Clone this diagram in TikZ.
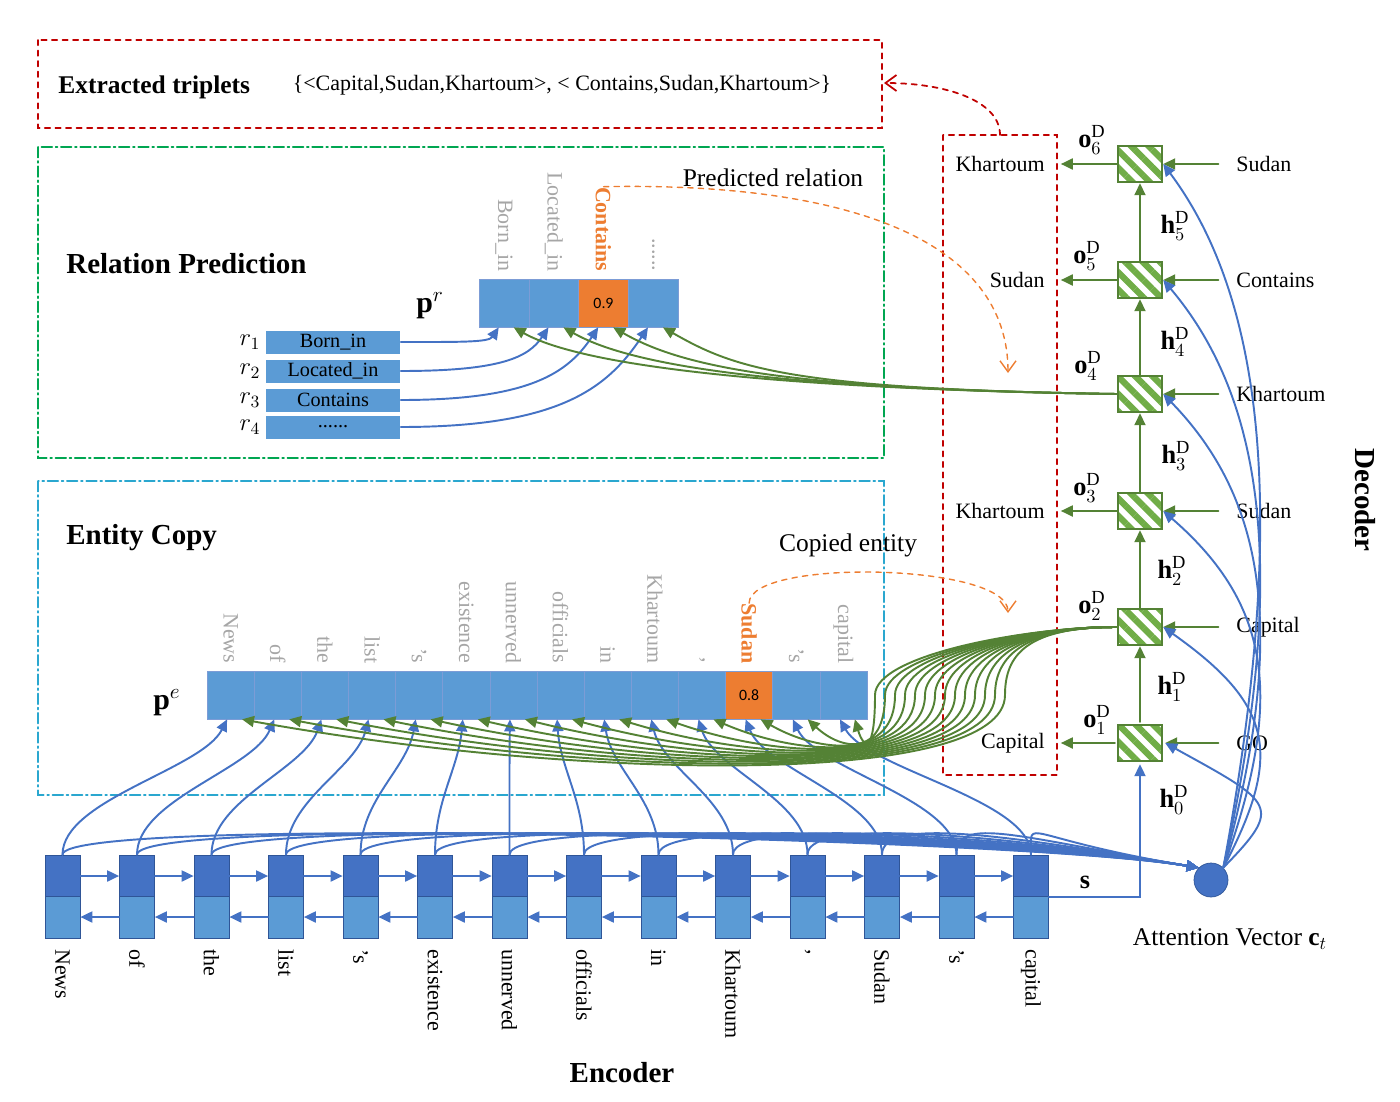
\RequirePackage{fix-cm}
\documentclass[tikz,border=0pt]{standalone}
\usepackage{amsmath,amssymb}
\usepackage{fontspec}
\setmainfont{Liberation Serif}
\newfontfamily\calibri{Carlito}
\usepackage{tikz}
\usetikzlibrary{arrows.meta,patterns.meta}
\usepackage{xcolor}

\definecolor{cellblue}{HTML}{5B9BD5}
\definecolor{darkblue}{HTML}{4472C4}
\definecolor{edgeblue}{HTML}{2F5597}
\definecolor{orangecell}{HTML}{ED7D31}
\definecolor{leafgreen}{HTML}{548235}
\definecolor{hatchgreen}{HTML}{70AD47}
\definecolor{boxred}{HTML}{C00000}
\definecolor{boxgreen}{HTML}{00A651}
\definecolor{boxcyan}{HTML}{2AA7CF}
\definecolor{labelgray}{HTML}{A6A6A6}

\newcommand{\tokens}{News,of,the,list,'s,existence,unnerved,officials,in,Khartoum,{,},Sudan,'s,capital}
\newcommand{\sixdots}{......}

\begin{document}
\begin{tikzpicture}[x=0.02cm,y=-0.02cm,line cap=round,font=\fontsize{12.5}{15}\selectfont,
  head/.style={font=\fontsize{16.5}{20}\selectfont\bfseries,inner sep=0pt},
  note/.style={font=\fontsize{14.5}{17}\selectfont,inner sep=0pt},
  mathlbl/.style={font=\fontsize{15}{18}\selectfont,inner sep=0pt},
  framed/.style={line width=1pt},
  chainline/.style={dash pattern=on 6pt off 2pt on 1pt off 2pt},
  enctop/.style={draw=edgeblue,fill=darkblue,minimum width=0.7cm,minimum height=0.84cm,inner sep=0pt},
  encbot/.style={draw=edgeblue,fill=cellblue,minimum width=0.7cm,minimum height=0.84cm,inner sep=0pt},
  pecell/.style={draw=darkblue!70,fill=cellblue,minimum width=0.943cm,minimum height=0.96cm,inner sep=0pt,font=\calibri\fontsize{9}{10}\selectfont},
  prcell/.style={draw=darkblue!70,fill=cellblue,minimum width=0.995cm,minimum height=0.96cm,inner sep=0pt,font=\calibri\fontsize{9}{10}\selectfont},
  rbox/.style={fill=cellblue,minimum width=2.7cm,minimum height=0.46cm,inner sep=0pt,font=\fontsize{11.5}{13}\selectfont},
  decbox/.style={draw=leafgreen,line width=1.4pt,minimum width=0.88cm,minimum height=0.72cm,inner sep=0pt,
    pattern={Lines[angle=-45,distance=7pt,line width=3.6pt]},pattern color=hatchgreen},
  bluearrow/.style={draw=darkblue,line width=1.1pt,-{Triangle[length=2.4mm,width=2.2mm]}},
  greenarrow/.style={draw=leafgreen,line width=1.1pt,-{Triangle[length=2.4mm,width=2.2mm]}},
  openarrow/.style={-{Straight Barb[length=2.2mm,width=3.2mm]}}]
\useasboundingbox (0,0) rectangle (1400,1102);

% frames
\draw[boxred,framed,dashed] (38,40) rectangle (882,128);
\draw[boxgreen,framed,chainline] (38,147) rectangle (884,458);
\draw[boxcyan,framed,chainline] (38,481) rectangle (884,795);
\draw[boxred,framed,dashed] (943,135) rectangle (1057,775);
\coordinate (tripin) at (884,83);
\coordinate (outtop) at (1000,135);
\coordinate (reltip) at (1008,373);
\coordinate (copytip) at (1008,613);

\node[head,anchor=west,font=\fontsize{14.5}{17}\selectfont\bfseries] (extr) at (58,87) {Extracted triplets};
\node[inner sep=0pt,font=\fontsize{12.5}{15}\selectfont] (trip) at (562,85) {\{<Capital,Sudan,Khartoum>, < Contains,Sudan,Khartoum>\}};
\node[head,anchor=west] (relhead) at (66,264) {Relation Prediction};
\node[head,anchor=west] (enthead) at (66,538) {Entity Copy};
\node[note] (predlbl) at (773,178) {Predicted relation};
\node[note] (copylbl) at (848,545) {Copied entity};

% relation prediction
\foreach \i in {1,...,4}
  \node[prcell] (pr\i) at ({504+(\i-1)*49.75},303) {};
\node[prcell,fill=orangecell] (prsel) at (pr3) {0.9};
\foreach \i/\w in {1/Born\_in,2/Located\_in,4/\sixdots}
  \node[labelgray,rotate=-90,anchor=east,inner sep=0pt] (prl\i) at ([yshift=4pt]pr\i.north) {\w};
\node[orangecell,rotate=-90,anchor=east,inner sep=0pt,font=\fontsize{12.5}{15}\selectfont\bfseries] (prl3) at ([yshift=4pt]pr3.north) {Contains};
\node[font=\fontsize{17}{20}\selectfont] (prlbl) at (430,306) {$\mathbf{p}^{r}$};

\foreach \i/\w/\y in {1/Born\_in/342,2/Located\_in/371,3/Contains/400,4/\sixdots/427} {
  \node[rbox] (r\i) at (333,\y) {\w};
  \node[font=\fontsize{14}{16}\selectfont] (rl\i) at (250,\y) {$r_{\i}$};
}
\foreach \i/\a/\b/\c in {1/60/10/15,2/100/20/30,3/130/30/45,4/160/40/60}
  \draw[bluearrow] (r\i.east) .. controls +(\a,0) and +(-\b,\c) .. ([xshift=-3pt]pr\i.south);

% entity copy
\foreach \i in {1,...,14}
  \node[pecell] (pe\i) at ({230.6+(\i-1)*47.14},695) {};
\node[pecell,fill=orangecell] (pesel) at (pe12) {0.8};
\foreach \w [count=\i] in \tokens
  \node[labelgray,rotate=-90,anchor=east,inner sep=0pt] (pel\i) at ([yshift=4pt]pe\i.north) {\ifnum\i=12 \color{orangecell}\bfseries\fi\w};
\node[font=\fontsize{17}{20}\selectfont] (pelbl) at (167,703) {$\mathbf{p}^{e}$};

% encoder
\foreach \w [count=\i] in \tokens {
  \node[enctop] (et\i) at ({62.5+(\i-1)*74.5},876) {};
  \node[encbot] (eb\i) at ({62.5+(\i-1)*74.5},917) {};
  \node[rotate=-90,anchor=west,inner sep=0pt] (ew\i) at ([yshift=-6pt]eb\i.south) {\w};
}
\foreach \i [evaluate=\i as \j using int(\i+1)] in {1,...,13} {
  \draw[bluearrow] (et\i) -- (et\j);
  \draw[bluearrow] (eb\j) -- (eb\i);
}
\node[head] (enclbl) at (622,1073) {Encoder};

\node[circle,draw=edgeblue,fill=darkblue,minimum size=0.68cm,inner sep=0pt] (att) at (1211,880) {};
\node[note,anchor=north] (attlbl) at (1230,928) {Attention Vector $\mathbf{c}_t$};

% decoder
\foreach \i/\y in {1/743,2/627,3/511,4/394,5/280,6/164}
  \node[decbox] (d\i) at (1140,\y) {};
\foreach \i [evaluate=\i as \j using int(\i+1)] in {1,...,5}
  \draw[greenarrow] (d\i) -- (d\j);
\foreach \i/\x/\y in {1/1097/720,2/1092/606,3/1087/488,4/1088/366,5/1087/256,6/1092/140}
  \node[mathlbl] (o\i) at (\x,\y) {$\mathbf{o}^{\mathrm{D}}_{\i}$};
\foreach \i/\x/\y in {0/1174/800,1/1172/687,2/1172/571,3/1176/456,4/1175/342,5/1175/226}
  \node[mathlbl] (h\i) at (\x,\y) {$\mathbf{h}^{\mathrm{D}}_{\i}$};
\foreach \i/\w in {1/Capital,3/Khartoum,5/Sudan,6/Khartoum} {
  \node[anchor=east,inner sep=0pt] (out\i) at (1045,0 |- d\i) {\w};
  \draw[greenarrow] (d\i.west) -- ([xshift=9pt]out\i.east);
}
\foreach \i/\w in {1/GO,2/Capital,3/Sudan,4/Khartoum,5/Contains,6/Sudan} {
  \node[anchor=west,inner sep=0pt] (in\i) at (1236,0 |- d\i) {\w};
  \draw[greenarrow] ([xshift=-10pt]in\i.west) -- (d\i.east);
}
\node[head,rotate=-90] (declbl) at (1365,500) {Decoder};

% encoder state to decoder
\draw[bluearrow] (et14.south east) -| (d1.south);
\node[font=\fontsize{15}{18}\selectfont] (slbl) at (1085,882) {$\mathbf{s}$};

% attention
\foreach \i in {1,...,14}
  \draw[bluearrow] (et\i.north) .. controls +(0,-40) and +(-180,-30) .. (att.north west);
\foreach \i/\y in {1/743,2/627,3/511,4/394,5/280,6/164} {
  \pgfmathsetmacro\up{-0.45*(880-\y)}
  \pgfmathsetmacro\back{0.15*(880-\y)+40}
  \draw[bluearrow] (att.north east) .. controls +(60,\up) and +(110,\back) .. (d\i.east);
}

% copy and relation scores
\foreach \i in {1,...,14} {
  \pgfmathsetmacro\dx{0.15*(-168.1+(\i-1)*27.36)}
  \draw[bluearrow] (et\i.north) .. controls +(0,-55) and +(\dx,50) .. ([xshift=-2pt]pe\i.south);
}
\foreach \i in {1,...,14} {
  \pgfmathsetmacro\xd{1005-(\i-1)*10}
  \pgfmathsetmacro\hx{0.45*(\xd-242.6-(\i-1)*47.14)}
  \pgfmathsetmacro\dn{92-(\i-1)*2.5}
  \pgfmathsetmacro\rise{62-(\i-1)*2.5}
  \coordinate (w\i) at (\xd,695);
  \draw[greenarrow] (d2.west) .. controls +(-90,0) and +(0,-40) .. (w\i) .. controls +(0,\dn) and +(\hx,\rise) .. ([xshift=6.5pt]pe\i.south);
}
\foreach \i in {1,...,4}
  \draw[greenarrow] (d4.west) .. controls +(-330,-5) and +(70,40) .. ([xshift=5.5pt]pr\i.south);

% predicted and copied outputs
\draw[orangecell,thick,dashed,openarrow] (prl3.west) .. controls +(250,-5) and +(0,-130) .. (reltip);
\draw[orangecell,thick,dashed,openarrow] (pel12.west) .. controls +(0,-45) and +(0,-50) .. (copytip);
\draw[boxred,framed,dashed,openarrow] (outtop) .. controls +(0,-35) and +(60,0) .. (tripin);
\end{tikzpicture}
\end{document}
